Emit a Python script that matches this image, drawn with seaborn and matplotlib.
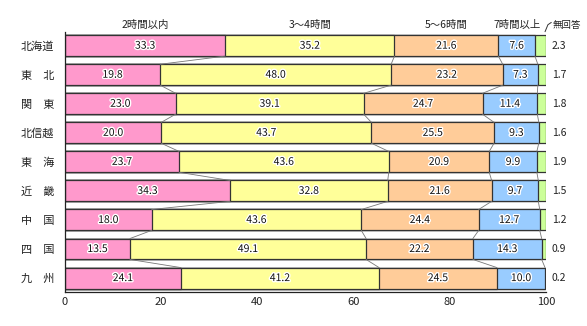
import numpy as np
import pandas as pd
import matplotlib
matplotlib.use("Agg")
import matplotlib.pyplot as plt
import matplotlib.patheffects as pe
import seaborn as sns

regions = ["北海道", "東　北", "関　東", "北信越", "東　海", "近　畿", "中　国", "四　国", "九　州"]
series = ["2時間以内", "3～4時間", "5～6時間", "7時間以上", "無回答"]
v_2h = [33.3, 19.8, 23.0, 20.0, 23.7, 34.3, 18.0, 13.5, 24.1]
v_34h = [35.2, 48.0, 39.1, 43.7, 43.6, 32.8, 43.6, 49.1, 41.2]
v_56h = [21.6, 23.2, 24.7, 25.5, 20.9, 21.6, 24.4, 22.2, 24.5]
v_7h = [7.6, 7.3, 11.4, 9.3, 9.9, 9.7, 12.7, 14.3, 10.0]
v_na = [2.3, 1.7, 1.8, 1.6, 1.9, 1.5, 1.2, 0.9, 0.2]
colors = ["#FF99CC", "#FFFF99", "#FFCC99", "#99CCFF", "#CCFF99"]
xticks = [0, 20, 40, 60, 80, 100]

sns.set_style("white")
plt.rcParams['font.family'] = ['Noto Sans CJK JP', 'DejaVu Sans']

vals = np.array([v_2h, v_34h, v_56h, v_7h, v_na])
cum = np.cumsum(vals, axis=0)
starts = cum - vals

fig = plt.figure(figsize=(5.87, 3.26), dpi=100)
ax = fig.add_axes([65/587, 1-292/326, (546-65)/587, (292-32)/326])

for k in range(len(series) - 1, -1, -1):
    df = pd.DataFrame({"region": regions, "value": cum[k]})
    sns.barplot(data=df, x="value", y="region", orient="h", color=colors[k],
                saturation=1, width=0.72, edgecolor="#333333", linewidth=0.9,
                ax=ax, order=regions)

# connecting lines
bh = 0.72
for i in range(len(regions) - 1):
    for k in range(len(series) - 1):
        ax.plot([cum[k, i], cum[k, i + 1]], [i + bh/2, i + 1 - bh/2],
                color="#777777", lw=0.6, zorder=1)

stroke = [pe.withStroke(linewidth=2, foreground="white")]
for i in range(len(regions)):
    for k in range(len(series) - 1):
        ax.text(starts[k, i] + vals[k, i]/2, i, f"{vals[k, i]:.1f}", ha="center", va="center",
                fontsize=7.5, color="#111111", path_effects=stroke, zorder=5)
    ax.text(101.2, i, f"{vals[4, i]:.1f}", ha="left", va="center", fontsize=7.5, color="#222222")

# header labels
for k in range(len(series) - 1):
    ax.text(starts[k, 0] + vals[k, 0]/2, -0.53, series[k], ha="center", va="bottom",
            fontsize=7.5, color="#222222")
ax.text(101.3, -0.53, series[4], ha="left", va="bottom", fontsize=6.8, color="#222222")
ax.plot([99.8, 100.4, 101.1], [-0.48, -0.72, -0.80], color="#333333", lw=0.7, clip_on=False)

ax.set_xlim(0, 100)
ax.set_ylim(8.48, -0.47)
ax.set_xticks(xticks)
ax.set_xticklabels([str(t) for t in xticks], fontsize=8)
ax.tick_params(axis="x", length=3, direction="inout", width=0.8, pad=2, colors="#222222")
ax.tick_params(axis="y", length=0, labelsize=8, pad=8, colors="#222222")
ax.set_xlabel("")
ax.set_ylabel("")
for s in ["top", "right"]:
    ax.spines[s].set_visible(False)
for s in ["left", "bottom"]:
    ax.spines[s].set_color("#222222")
    ax.spines[s].set_linewidth(0.9)

fig.savefig("out.png", dpi=100)
